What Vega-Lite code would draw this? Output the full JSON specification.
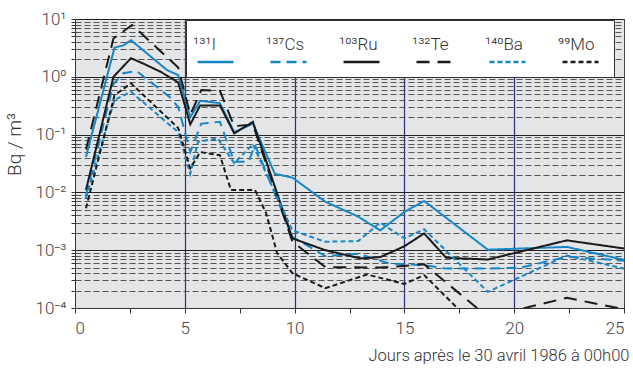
{
  "$schema": "https://vega.github.io/schema/vega-lite/v6.json",
  "width": 549,
  "height": 289,
  "autosize": {"type": "none"},
  "padding": {"left": 75, "top": 19, "right": 9, "bottom": 61},
  "background": "white",
  "config": {
    "font": "Roboto",
    "view": {"fill": "#e4e5e7", "stroke": "#444", "strokeWidth": 1},
    "legend": {
      "orient": "none", "legendX": 111, "legendY": 1, "direction": "horizontal", "columns": 6,
      "symbolType": "stroke", "symbolSize": 1296, "symbolStrokeWidth": 2.5,
      "labelFont": "Roboto", "labelFontSize": 17, "labelFontWeight": 300, "labelColor": "#333",
      "labelBaseline": "alphabetic",
      "fillColor": "white", "strokeColor": "#333", "padding": 10, "columnPadding": 26, "labelOffset": -42
    }
  },
  "data": {"values": [
    {"iso":"¹³¹I","day":0.5,"v":0.041},{"iso":"¹³¹I","day":1.8,"v":3.2},{"iso":"¹³¹I","day":2.2,"v":3.5},{"iso":"¹³¹I","day":2.55,"v":4.3},{"iso":"¹³¹I","day":4.2,"v":1.3},{"iso":"¹³¹I","day":4.7,"v":1.07},{"iso":"¹³¹I","day":5.25,"v":0.2},{"iso":"¹³¹I","day":5.7,"v":0.385},{"iso":"¹³¹I","day":6.6,"v":0.35},{"iso":"¹³¹I","day":7.25,"v":0.11},{"iso":"¹³¹I","day":8.1,"v":0.155},{"iso":"¹³¹I","day":9.1,"v":0.021},{"iso":"¹³¹I","day":9.9,"v":0.018},{"iso":"¹³¹I","day":11.4,"v":0.0069},{"iso":"¹³¹I","day":12.9,"v":0.0038},{"iso":"¹³¹I","day":13.9,"v":0.0022},{"iso":"¹³¹I","day":15.0,"v":0.0046},{"iso":"¹³¹I","day":15.9,"v":0.0071},{"iso":"¹³¹I","day":18.8,"v":0.00102},{"iso":"¹³¹I","day":22.4,"v":0.00114},{"iso":"¹³¹I","day":25,"v":0.00068},
    {"iso":"¹³⁷Cs","day":0.5,"v":0.009},{"iso":"¹³⁷Cs","day":1.75,"v":0.75},{"iso":"¹³⁷Cs","day":2.2,"v":1.15},{"iso":"¹³⁷Cs","day":2.8,"v":1.26},{"iso":"¹³⁷Cs","day":4.3,"v":0.45},{"iso":"¹³⁷Cs","day":4.7,"v":0.3},{"iso":"¹³⁷Cs","day":5.25,"v":0.05},{"iso":"¹³⁷Cs","day":5.75,"v":0.155},{"iso":"¹³⁷Cs","day":6.6,"v":0.166},{"iso":"¹³⁷Cs","day":7.25,"v":0.034},{"iso":"¹³⁷Cs","day":7.9,"v":0.034},{"iso":"¹³⁷Cs","day":8.2,"v":0.066},{"iso":"¹³⁷Cs","day":9.9,"v":0.0017},{"iso":"¹³⁷Cs","day":11.4,"v":0.00079},{"iso":"¹³⁷Cs","day":12.9,"v":0.00087},{"iso":"¹³⁷Cs","day":14.3,"v":0.00059},{"iso":"¹³⁷Cs","day":15.9,"v":0.00055},{"iso":"¹³⁷Cs","day":16.9,"v":0.00048},{"iso":"¹³⁷Cs","day":18.8,"v":0.00048},{"iso":"¹³⁷Cs","day":20.3,"v":0.0005},{"iso":"¹³⁷Cs","day":22.4,"v":0.00077},{"iso":"¹³⁷Cs","day":25,"v":0.00066},
    {"iso":"¹⁰³Ru","day":0.5,"v":0.011},{"iso":"¹⁰³Ru","day":1.75,"v":1.0},{"iso":"¹⁰³Ru","day":2.55,"v":2.1},{"iso":"¹⁰³Ru","day":3.1,"v":1.7},{"iso":"¹⁰³Ru","day":3.9,"v":1.22},{"iso":"¹⁰³Ru","day":4.7,"v":0.8},{"iso":"¹⁰³Ru","day":5.25,"v":0.15},{"iso":"¹⁰³Ru","day":5.7,"v":0.32},{"iso":"¹⁰³Ru","day":6.6,"v":0.32},{"iso":"¹⁰³Ru","day":7.25,"v":0.105},{"iso":"¹⁰³Ru","day":8.1,"v":0.166},{"iso":"¹⁰³Ru","day":9.9,"v":0.0016},{"iso":"¹⁰³Ru","day":11.4,"v":0.001},{"iso":"¹⁰³Ru","day":13.0,"v":0.00072},{"iso":"¹⁰³Ru","day":13.9,"v":0.00076},{"iso":"¹⁰³Ru","day":15.0,"v":0.00117},{"iso":"¹⁰³Ru","day":15.9,"v":0.00195},{"iso":"¹⁰³Ru","day":16.9,"v":0.00074},{"iso":"¹⁰³Ru","day":18.8,"v":0.00069},{"iso":"¹⁰³Ru","day":22.4,"v":0.00148},{"iso":"¹⁰³Ru","day":25,"v":0.00107},
    {"iso":"¹³²Te","day":0.5,"v":0.055},{"iso":"¹³²Te","day":1.75,"v":4.6},{"iso":"¹³²Te","day":2.6,"v":7.9},{"iso":"¹³²Te","day":4.7,"v":1.45},{"iso":"¹³²Te","day":5.25,"v":0.22},{"iso":"¹³²Te","day":5.75,"v":0.59},{"iso":"¹³²Te","day":6.6,"v":0.57},{"iso":"¹³²Te","day":7.25,"v":0.14},{"iso":"¹³²Te","day":8.1,"v":0.15},{"iso":"¹³²Te","day":9.9,"v":0.0014},{"iso":"¹³²Te","day":11.4,"v":0.00051},{"iso":"¹³²Te","day":13.9,"v":0.0005},{"iso":"¹³²Te","day":15.9,"v":0.00057},{"iso":"¹³²Te","day":18.8,"v":0.00007},{"iso":"¹³²Te","day":22.4,"v":0.00015},{"iso":"¹³²Te","day":25,"v":0.000095},
    {"iso":"¹⁴⁰Ba","day":0.5,"v":0.008},{"iso":"¹⁴⁰Ba","day":1.8,"v":0.4},{"iso":"¹⁴⁰Ba","day":2.55,"v":0.55},{"iso":"¹⁴⁰Ba","day":4.7,"v":0.11},{"iso":"¹⁴⁰Ba","day":5.25,"v":0.021},{"iso":"¹⁴⁰Ba","day":5.6,"v":0.075},{"iso":"¹⁴⁰Ba","day":6.5,"v":0.086},{"iso":"¹⁴⁰Ba","day":7.25,"v":0.032},{"iso":"¹⁴⁰Ba","day":8.1,"v":0.068},{"iso":"¹⁴⁰Ba","day":9.9,"v":0.0022},{"iso":"¹⁴⁰Ba","day":11.4,"v":0.0014},{"iso":"¹⁴⁰Ba","day":12.9,"v":0.00144},{"iso":"¹⁴⁰Ba","day":13.9,"v":0.003},{"iso":"¹⁴⁰Ba","day":15.0,"v":0.0016},{"iso":"¹⁴⁰Ba","day":15.9,"v":0.0023},{"iso":"¹⁴⁰Ba","day":18.8,"v":0.00019},{"iso":"¹⁴⁰Ba","day":22.4,"v":0.00081},{"iso":"¹⁴⁰Ba","day":25,"v":0.00048},
    {"iso":"⁹⁹Mo","day":0.5,"v":0.0053},{"iso":"⁹⁹Mo","day":1.8,"v":0.48},{"iso":"⁹⁹Mo","day":2.55,"v":0.77},{"iso":"⁹⁹Mo","day":4.7,"v":0.13},{"iso":"⁹⁹Mo","day":5.25,"v":0.026},{"iso":"⁹⁹Mo","day":5.7,"v":0.05},{"iso":"⁹⁹Mo","day":6.6,"v":0.044},{"iso":"⁹⁹Mo","day":7.1,"v":0.011},{"iso":"⁹⁹Mo","day":8.2,"v":0.011},{"iso":"⁹⁹Mo","day":8.7,"v":0.0044},{"iso":"⁹⁹Mo","day":9.2,"v":0.0009},{"iso":"⁹⁹Mo","day":9.9,"v":0.0004},{"iso":"⁹⁹Mo","day":11.4,"v":0.00022},{"iso":"⁹⁹Mo","day":13.3,"v":0.00038},{"iso":"⁹⁹Mo","day":15.0,"v":0.00026},{"iso":"⁹⁹Mo","day":15.9,"v":0.00037},{"iso":"⁹⁹Mo","day":18.8,"v":0.00003}
  ]},
  "mark": {"type": "line", "strokeWidth": 2, "clip": true},
  "encoding": {
    "x": {
      "field": "day", "type": "quantitative",
      "scale": {"domain": [0, 25], "nice": false},
      "axis": {
        "values": [0, 2.5, 5, 7.5, 10, 12.5, 15, 17.5, 20, 22.5, 25],
        "labelExpr": "datum.value % 5 == 0 ? datum.label : ''",
        "labelFont": "Roboto", "labelFontWeight": 300, "labelFontSize": 17, "labelColor": "#444", "labelPadding": 7,
        "tickSize": 5, "tickColor": "#333", "domainColor": "#333",
        "grid": true,
        "gridColor": "#2e2e80",
        "gridOpacity": {"condition": {"test": "datum.value % 5 == 0 && datum.value > 0 && datum.value < 25", "value": 1}, "value": 0},
        "gridWidth": 1.2,
        "title": "Jours après le 30 avril 1986 à 00h00",
        "titleFont": "Roboto", "titleFontWeight": 300, "titleFontSize": 16.5, "titleColor": "#333",
        "titleAnchor": "end", "titleAlign": "right", "titleX": 554, "titleY": 52, "titleBaseline": "alphabetic"
      }
    },
    "y": {
      "field": "v", "type": "quantitative",
      "scale": {"type": "log", "domain": [0.0001, 10], "nice": false},
      "axis": {
        "values": [0.0001,0.0002,0.0003,0.0004,0.0005,0.0006,0.0007,0.0008,0.0009,0.001,0.002,0.003,0.004,0.005,0.006,0.007,0.008,0.009,0.01,0.02,0.03,0.04,0.05,0.06,0.07,0.08,0.09,0.1,0.2,0.3,0.4,0.5,0.6,0.7,0.8,0.9,1,2,3,4,5,6,7,8,9,10],
        "labelExpr": "datum.value == 10 ? '10¹' : datum.value == 1 ? '10⁰' : datum.value == 0.1 ? '10⁻¹' : datum.value == 0.01 ? '10⁻²' : datum.value == 0.001 ? '10⁻³' : datum.value == 0.0001 ? '10⁻⁴' : ''",
        "labelFont": "Roboto", "labelFontWeight": 300, "labelFontSize": 17, "labelColor": "#444", "labelPadding": 5,
        "labelOverlap": false,
        "tickSize": 4, "tickColor": "#333", "domainColor": "#333",
        "grid": true,
        "gridColor": {"condition": {"test": "indexof([10,1,0.1,0.01,0.001,0.0001], datum.value) >= 0", "value": "#222"}, "value": "#555"},
        "gridDash": {"condition": {"test": "indexof([10,1,0.1,0.01,0.001,0.0001], datum.value) >= 0", "value": []}, "value": [6, 3]},
        "gridWidth": 1,
        "title": "Bq / m³",
        "titleFont": "Roboto", "titleFontWeight": 300, "titleFontSize": 19, "titleColor": "#333",
        "titleAngle": -90, "titleX": -55, "titleY": 125, "titleAlign": "center", "titleBaseline": "alphabetic"
      }
    },
    "color": {
      "field": "iso", "type": "nominal",
      "scale": {"domain": ["¹³¹I","¹³⁷Cs","¹⁰³Ru","¹³²Te","¹⁴⁰Ba","⁹⁹Mo"], "range": ["#1786c8","#1786c8","#1a1a1a","#1a1a1a","#1786c8","#1a1a1a"]},
      "legend": {"title": null, "encode": {"labels": {"update": {"y": {"value": 20}}}, "symbols": {"update": {"y": {"value": 32}}}}}
    },
    "strokeDash": {
      "field": "iso", "type": "nominal",
      "scale": {"domain": ["¹³¹I","¹³⁷Cs","¹⁰³Ru","¹³²Te","¹⁴⁰Ba","⁹⁹Mo"], "range": [[1,0],[10,6],[1,0],[13,8],[5,3],[5,3]]},
      "legend": {"title": null, "encode": {"labels": {"update": {"y": {"value": 20}}}, "symbols": {"update": {"y": {"value": 32}}}}}
    }
  }
}
